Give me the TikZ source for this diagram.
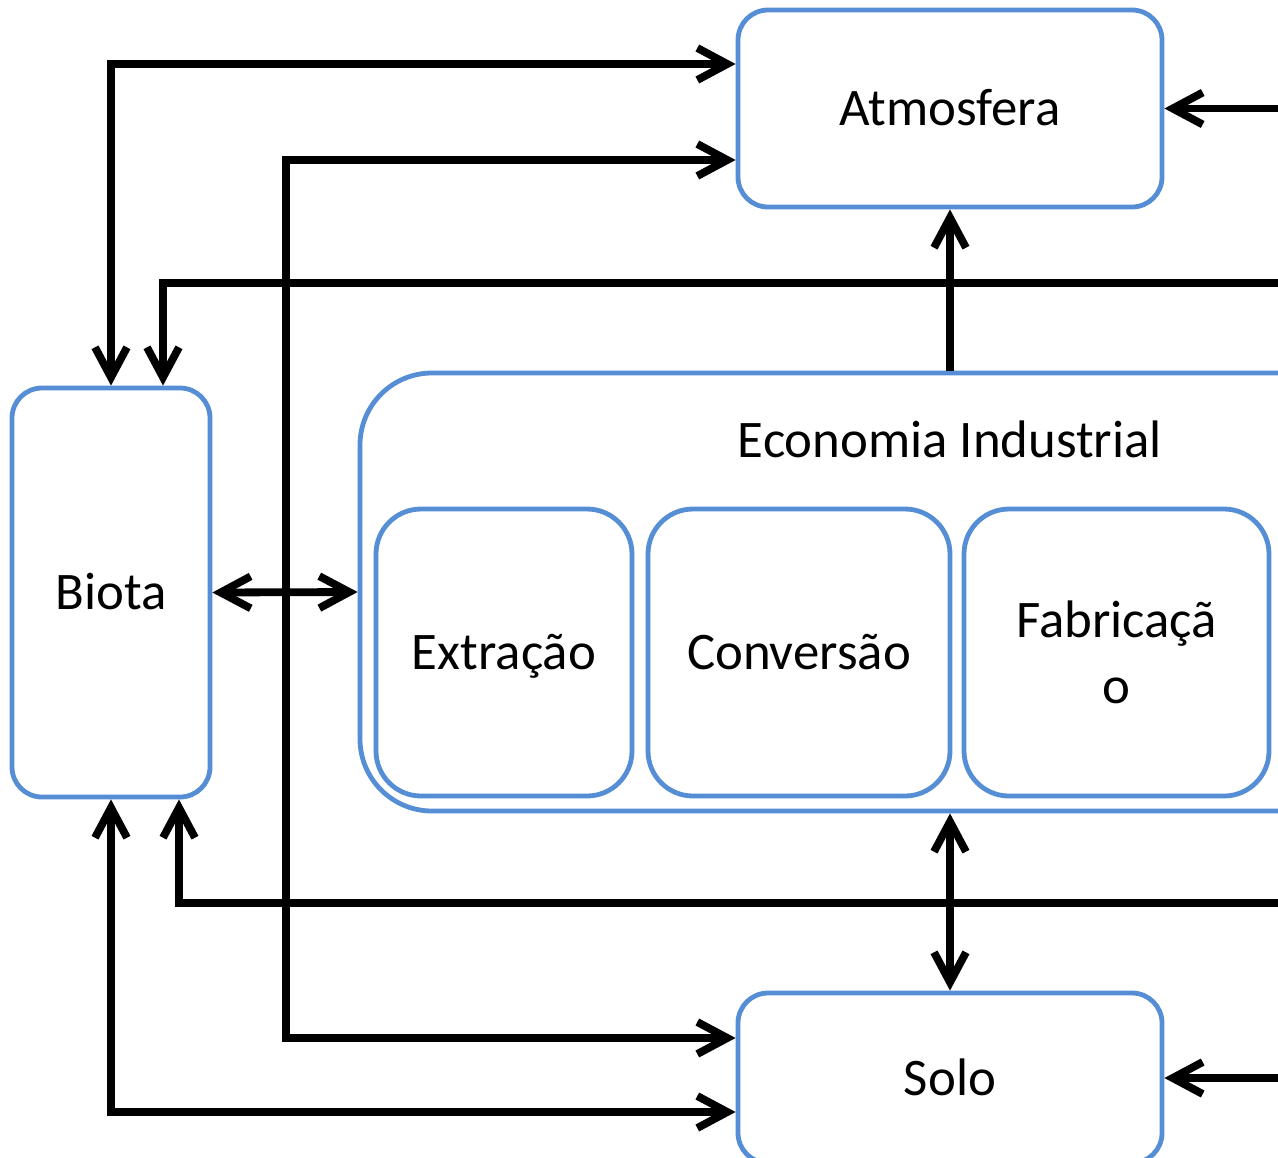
\documentclass[tikz,border=0pt]{standalone}
\usepackage{fontspec}
\setmainfont{Carlito}
\usetikzlibrary{arrows.meta}
\definecolor{boxblue}{RGB}{85,142,213}
\begin{document}
\begin{tikzpicture}[x=0.5pt,y=-0.5pt,
  >={Straight Barb[length=15pt,width=16pt]},
  txt/.style={font=\fontsize{26.4pt}{33pt}\selectfont, align=center, inner sep=0pt},
  capc/.style={text height=17pt, text depth=0pt},
  box/.style={txt, draw=boxblue, line width=2.4pt, rounded corners=15pt},
  arr/.style={line width=3.9pt, ->},
  dbl/.style={line width=3.9pt, <->}]
\useasboundingbox (0,0) rectangle (1278,1157);
\clip (0,0) rectangle (1278,1157);
% nodes
\node[box, capc, minimum width=212pt, minimum height=98.5pt] (atm) at (950,108.5) {Atmosfera};
\node[box, capc, minimum width=99pt, minimum height=204.5pt] (bio) at (111,592.5) {Biota};
\node[box, rounded corners=36pt, minimum width=590pt, minimum height=219pt] (eco) at (950,592) {};
\node[txt, capc] (ecot) at (950,440) {Economia Industrial};
\node[box, capc, rounded corners=22.5pt, minimum width=128pt, minimum height=143.5pt] (ext) at (504,652.5) {Extração};
\node[box, capc, rounded corners=22.5pt, minimum width=151pt, minimum height=143.5pt] (conv) at (799,652.5) {Conversão};
\node[box, rounded corners=22.5pt, minimum width=152.5pt, minimum height=143.5pt] (fab) at (1116.5,652.5) {Fabricaçã\\o};
\node[box, capc, minimum width=212pt, minimum height=85pt] (solo) at (950,1078) {Solo};
% free ends at the right edge
\coordinate (r1) at (1290,108.5);
\coordinate (r2) at (1290,283);
\coordinate (r3) at (1290,903);
\coordinate (r4) at (1290,1078);
% connectors
\draw[dbl] ([yshift=22.25pt]atm.west) -| (bio.north);
\draw[dbl] ([yshift=-25.75pt]atm.west) -| (286,1038) -- ([yshift=20pt]solo.west);
\draw[arr] (r2) -| ([xshift=26pt]bio.north);
\draw[arr] (eco.north) -- (atm.south);
\draw[arr] (r1) -- (atm.east);
\draw[dbl] (bio.east) -- (eco.west);
\draw[dbl] (eco.south) -- (solo.north);
\draw[arr] (r3) -| ([xshift=34pt]bio.south);
\draw[dbl] (bio.south) |- ([yshift=-17pt]solo.west);
\draw[arr] (r4) -- (solo.east);
\end{tikzpicture}
\end{document}
